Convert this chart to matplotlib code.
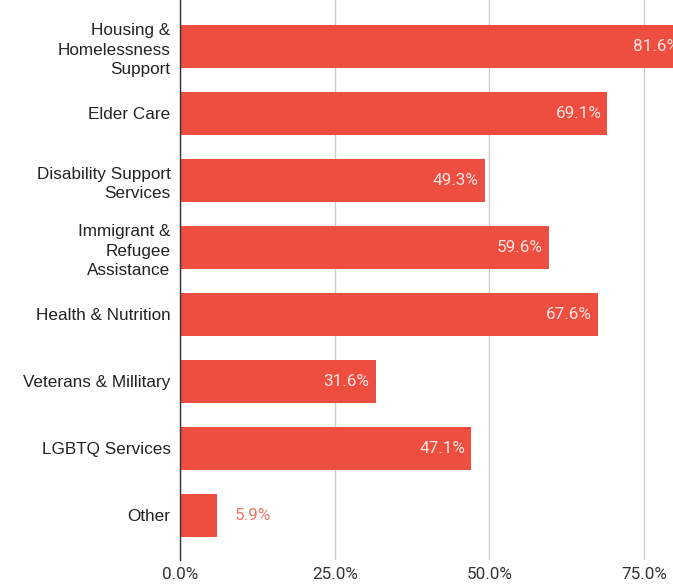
import matplotlib.pyplot as plt
from matplotlib.ticker import FuncFormatter

# 各カテゴリの割合(%)
categories = ["Housing &\nHomelessness\nSupport", "Elder Care", "Disability Support\nServices",
              "Immigrant &\nRefugee\nAssistance", "Health & Nutrition", "Veterans & Millitary",
              "LGBTQ Services", "Other"]
values = [81.6, 69.1, 49.3, 59.6, 67.6, 31.6, 47.1, 5.9]
xticks = [0, 25, 50, 75]

plt.rcParams['font.family'] = ['Roboto', 'DejaVu Sans']
bar_color = "#ee4e40"

fig = plt.figure(figsize=(6.73, 5.86), dpi=100)
ax = fig.add_axes([0.268, 0.0444, 0.732, 0.9556])

y = list(range(len(categories)))
ax.barh(y, values, height=0.64, color=bar_color, zorder=3)

ax.set_xlim(0, 79.7)
ax.set_ylim(7.67, -0.695)
ax.set_xticks(xticks)
ax.xaxis.set_major_formatter(FuncFormatter(lambda v, p: f"{v:.1f}%"))
ax.set_yticks(y)
ax.set_yticklabels(categories, fontsize=12.3, color="#222222", linespacing=1.38,
                   family=["Liberation Sans", "DejaVu Sans"])
ax.tick_params(axis="x", length=0, labelsize=12.3, labelcolor="#333333", pad=5)
ax.tick_params(axis="y", length=0, pad=7)

ax.grid(axis="x", color="#cccccc", linewidth=1, zorder=0)
for s in ["top", "right", "bottom"]:
    ax.spines[s].set_visible(False)
ax.spines["left"].set_color("#333333")
ax.spines["left"].set_linewidth(1)
ax.spines["left"].set_zorder(4)

# 値ラベル
for yi, v in zip(y, values):
    if v > 15:
        ax.text(v - 1.0, yi, f"{v}%", ha="right", va="center", fontsize=12.3,
                color="#fde3e0", zorder=5, clip_on=True)
    else:
        ax.text(v + 2.9, yi, f"{v}%", ha="left", va="center", fontsize=12.3,
                color="#e8766b", zorder=5, clip_on=True)

plt.savefig("out.png", dpi=100)
